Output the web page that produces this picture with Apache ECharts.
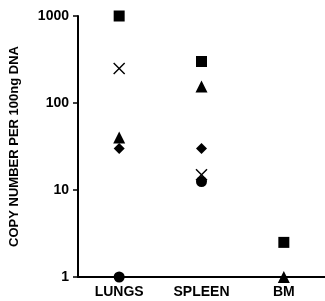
<!DOCTYPE html>
<html><head><meta charset="utf-8">
<script src="https://cdn.jsdelivr.net/npm/echarts@6/dist/echarts.min.js"></script>
<style>html,body{margin:0;padding:0;background:#fff}#c{width:325px;height:301px}</style>
</head><body><div id="c"></div>
<script>
var categories = ['LUNGS', 'SPLEEN', 'BM'];
var squareVals = [1000, 300, 2.5];
var crossVals = [250, 15, null];
var triangleVals = [40, 155, 1];
var diamondVals = [30, 30, null];
var circleVals = [1, 12.5, null];
var yTicks = [1, 10, 100, 1000];

var FONT = 'Liberation Sans, Arial, sans-serif';
function pts(vals) {
  var out = [];
  vals.forEach(function (v, i) { if (v != null) out.push([categories[i], v]); });
  return out;
}
var crossPath = 'path://M1,0L6,5L11,0L12,1L7,6L12,11L11,12L6,7L1,12L0,11L5,6L0,1Z';
function ser(vals, symbol, size) {
  return { type: 'scatter', data: pts(vals), symbol: symbol, symbolSize: size, clip: false,
    itemStyle: { color: '#000', opacity: 1 }, z: 5 };
}
var chart = echarts.init(document.getElementById('c'));
chart.setOption({
  animation: false,
  grid: { left: 75, right: 0, top: 16, bottom: 24 },
  xAxis: {
    type: 'category', data: categories, boundaryGap: true,
    axisLine: { lineStyle: { color: '#000', width: 2 } },
    axisTick: { show: false },
    axisLabel: { color: '#000', fontFamily: FONT, fontWeight: 'bold', fontSize: 14, margin: 8 }
  },
  yAxis: {
    type: 'log', min: yTicks[0], max: yTicks[yTicks.length - 1], logBase: 10,
    name: 'COPY NUMBER PER 100ng DNA', nameLocation: 'middle', nameGap: 57, nameRotate: 90,
    nameTextStyle: { color: '#000', fontFamily: FONT, fontWeight: 'bold', fontSize: 13 },
    axisLine: { show: true, lineStyle: { color: '#000', width: 2 } },
    axisTick: { show: true, length: 5, lineStyle: { color: '#000', width: 1.5 } },
    splitLine: { show: false },
    axisLabel: { color: '#000', fontFamily: FONT, fontWeight: 'bold', fontSize: 14, margin: 9,
      formatter: function (v) { return String(Math.round(v)); } }
  },
  series: [
    ser(squareVals, 'rect', 11),
    ser(crossVals, crossPath, 12),
    ser(triangleVals, 'triangle', 12),
    ser(diamondVals, 'diamond', 11),
    ser(circleVals, 'circle', 11)
  ]
});
</script></body></html>
